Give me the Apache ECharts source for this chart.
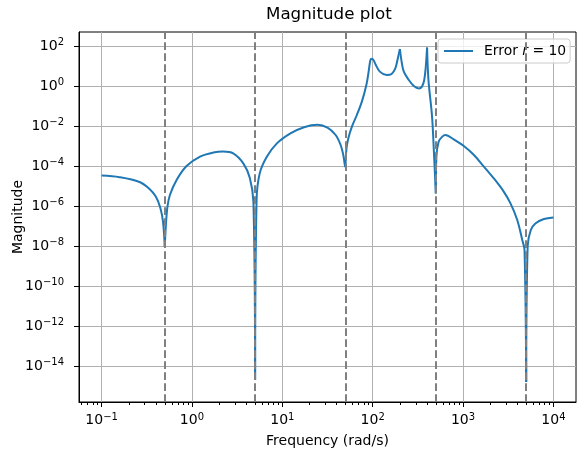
<!DOCTYPE html>
<html>
<head>
<meta charset="utf-8">
<script src="https://cdn.jsdelivr.net/npm/echarts@6/dist/echarts.min.js"></script>
<style>
  html, body { margin: 0; padding: 0; background: #fff; }
  #main { width: 584px; height: 459px; }
</style>
</head>
<body>
<div id="main"></div>
<script>
// frequency (rad/s) and error magnitude
const freq = [0.1, 0.158, 0.263, 0.339, 0.398, 0.447, 0.479, 0.5, 0.519, 0.537,
  0.57, 0.676, 0.871, 1.23, 1.72, 2.22, 2.86, 3.7, 4.37, 4.79,
  5, 5.19, 5.62, 6.76, 8.71, 12.3, 17.4, 24.5, 31.6, 38.9,
  44.2, 47.3, 49.2, 50, 51.3, 53.7, 58.9, 66.8, 75.9, 85.1,
  90.2, 94.4, 97.7, 102, 107, 120, 143, 162, 178, 188,
  200, 209, 221, 251, 285, 324, 351, 372, 387, 400,
  407, 417, 454, 473, 500, 507, 537, 589, 638, 789,
  1020, 1320, 1700, 2190, 2820, 3350, 3980, 4520, 4790, 5000,
  5190, 5620, 6310, 7850, 10000];
const mag = [3.31e-5, 2.75e-5, 1.58e-5, 7.08e-6, 2.95e-6, 7.94e-7, 1.58e-7, 9.3e-9, 2.0e-7, 1.0e-6,
  3.55e-6, 2.0e-5, 1.0e-4, 2.95e-4, 4.68e-4, 5.25e-4, 4.27e-4, 1.35e-4, 2.51e-5, 1.58e-6,
  2.0e-15, 2.0e-6, 4.27e-5, 2.95e-4, 1.35e-3, 4.27e-3, 8.71e-3, 1.15e-2, 8.32e-3, 3.55e-3,
  1.12e-3, 3.55e-4, 1.12e-4, 8.9e-5, 7.59e-4, 2.4e-3, 9.33e-3, 3.55e-2, 0.166, 1.12,
  5.25, 20.0, 22.9, 20.0, 12.6, 5.25, 3.55, 3.98, 7.59, 20.0,
  70.8, 16.6, 5.25, 2.0, 1.0, 0.759, 0.933, 2.0, 9.33, 83.2,
  7.94, 1.35, 2.95e-2, 9.33e-4, 4.27e-6, 2.95e-4, 1.66e-3, 2.95e-3, 3.55e-3, 2.14e-3,
  1.0e-3, 3.55e-4, 9.33e-5, 2.4e-5, 5.25e-6, 1.35e-6, 2.0e-7, 2.0e-8, 6.31e-9, 1.58e-15,
  1.0e-8, 6.31e-8, 1.35e-7, 2.24e-7, 2.69e-7];
const cutoffs = [0.5, 5, 50, 500, 5000];
// sharp points of the curve (notches and resonance cusps)
const cusps = [0.5, 5, 50, 200, 400, 500, 5000];
const xTicks = [0.1, 1, 10, 100, 1000, 10000];
const yTicks = [1e-14, 1e-12, 1e-10, 1e-8, 1e-6, 1e-4, 1e-2, 1, 1e2];

const xMinor = [];
for (let d = -2; d <= 4; d++) {
  for (let k = 2; k <= 9; k++) {
    const v = k * Math.pow(10, d);
    if (v > 0.0563 && v < 17780) xMinor.push(v);
  }
}

function sci(v) {
  const e = Math.round(Math.log10(v));
  return '{b|10}{s|' + (e < 0 ? '\u2212' + (-e) : e) + '}';
}
const richLabel = {
  b: { fontSize: 14, lineHeight: 17, color: '#000', fontFamily: 'DejaVu Sans' },
  s: { fontSize: 10, lineHeight: 10, verticalAlign: 'top', color: '#000', fontFamily: 'DejaVu Sans' }
};

// split the curve at the cusps so the smooth pieces keep sharp notches
const points = freq.map((f, i) => [f, mag[i]]);
const cuts = [0].concat(cusps.map(v => freq.indexOf(v)), [freq.length - 1]);
const series = [];
for (let k = 0; k < cuts.length - 1; k++) {
  series.push({
    name: 'Error r = 10',
    type: 'line',
    data: points.slice(cuts[k], cuts[k + 1] + 1),
    symbol: 'none',
    smooth: 0.35,
    lineStyle: { color: '#1f77b4', width: 2 },
    itemStyle: { color: '#1f77b4' }
  });
}
series[0].markLine = {
  silent: true,
  symbol: ['none', 'none'],
  label: { show: false },
  lineStyle: { color: '#808080', type: [7.7, 3.3], width: 2 },
  data: cutoffs.map(c => ({ xAxis: c }))
};

const chart = echarts.init(document.getElementById('main'));
const option = {
  animation: false,
  textStyle: { fontFamily: 'DejaVu Sans' },
  title: {
    text: 'Magnitude plot',
    left: 266,
    top: 6,
    padding: 0,
    textStyle: { fontSize: 16.7, fontWeight: 'normal', color: '#000' }
  },
  legend: {
    data: ['Error r = 10'],
    left: 438,
    top: 39,
    padding: [5, 4, 5, 5],
    itemWidth: 29,
    itemHeight: 14,
    itemStyle: { opacity: 0 },
    backgroundColor: 'rgba(255,255,255,0.8)',
    borderColor: '#cccccc',
    borderWidth: 1,
    borderRadius: 3,
    formatter: function () { return '{g|}Error {i|r} = 10'; },
    textStyle: {
      fontSize: 13.9,
      color: '#000',
      rich: {
        g: { width: 6 },
        i: { fontSize: 13.9, fontStyle: 'italic', color: '#000' }
      }
    }
  },
  grid: {
    left: 79, right: 8, top: 32, bottom: 57,
    outerBoundsMode: 'none',
    show: true, borderColor: '#000', borderWidth: 1, backgroundColor: 'transparent'
  },
  xAxis: [{
    type: 'log',
    min: Math.pow(10, -1.25),
    max: Math.pow(10, 4.25),
    name: 'Frequency (rad/s)',
    nameLocation: 'middle',
    nameGap: 32,
    nameMoveOverlap: false,
    nameTextStyle: { fontSize: 14, color: '#000' },
    axisLine: { lineStyle: { color: '#000', width: 1 } },
    axisTick: { customValues: xTicks, length: 5, lineStyle: { color: '#000' } },
    axisLabel: { customValues: xTicks, margin: 10, formatter: sci, rich: richLabel },
    splitLine: { show: true, lineStyle: { color: '#b0b0b0', width: 1 } }
  }, {
    type: 'log',
    min: Math.pow(10, -1.25),
    max: Math.pow(10, 4.25),
    position: 'bottom',
    axisLine: { show: false },
    axisTick: { customValues: xMinor, length: 3, lineStyle: { color: '#000' } },
    axisLabel: { show: false },
    splitLine: { show: false }
  }],
  yAxis: {
    type: 'log',
    min: Math.pow(10, -15.8),
    max: Math.pow(10, 2.7),
    name: 'Magnitude',
    nameLocation: 'middle',
    nameGap: 54,
    nameMoveOverlap: false,
    nameTextStyle: { fontSize: 14, color: '#000' },
    axisLine: { show: true, lineStyle: { color: '#000', width: 1 } },
    axisTick: { show: true, customValues: yTicks, length: 5, lineStyle: { color: '#000' } },
    axisLabel: { customValues: yTicks, margin: 15, formatter: sci, rich: richLabel },
    splitLine: { show: true, lineStyle: { color: '#b0b0b0', width: 1 } }
  },
  series: series
};
chart.setOption(option);
</script>
</body>
</html>
